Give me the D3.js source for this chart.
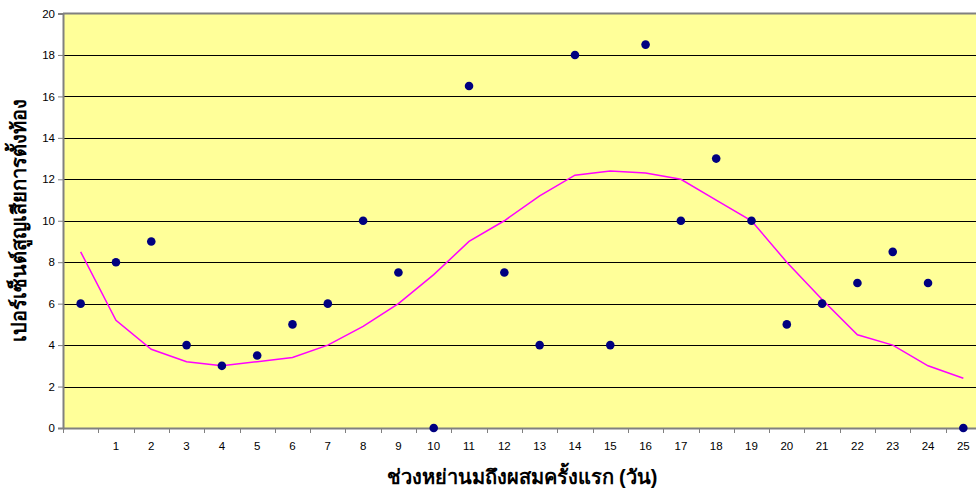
<!DOCTYPE html>
<html><head><meta charset="utf-8">
<script src="https://cdn.jsdelivr.net/npm/d3@7"></script>
<style>
html,body{margin:0;padding:0;background:#fff;overflow:hidden;}
svg{display:block;font-family:"Liberation Sans",Arial,sans-serif;}
</style></head>
<body><svg id="c" width="976" height="488"></svg>
<script>
const categories = ["0","1","2","3","4","5","6","7","8","9","10","11","12","13","14","15","16","17","18","19","20","21","22","23","24","25"];
const tickLabels = ["","1","2","3","4","5","6","7","8","9","10","11","12","13","14","15","16","17","18","19","20","21","22","23","24","25"];
const lossPct = [6,8,9,4,3,3.5,5,6,10,7.5,0,16.5,7.5,4,18,4,18.5,10,13,10,5,6,7,8.5,7,0];
const trend = [8.5,5.2,3.8,3.2,3.0,3.2,3.4,4.0,4.9,6.0,7.4,9.0,10.0,11.2,12.2,12.4,12.3,12.0,11.0,10.0,8.0,6.2,4.5,4.0,3.0,2.4];
const yTicks = [0,2,4,6,8,10,12,14,16,18,20];
const xTitle = "ช่วงหย่านมถึงผสมครั้งแรก (วัน)";
const yTitle = "เปอร์เซ็นต์สูญเสียการตั้งท้อง";

const svg = d3.select("#c");
const L = 63, R = 981, T = 13.5, B = 428;
const x = d3.scaleBand().domain(categories).range([L, R]).padding(0);
const y = d3.scaleLinear().domain([0, 20]).range([B, T]);
const cx = d => x(d) + x.bandwidth() / 2;

svg.append("rect").attr("x", L).attr("y", T).attr("width", R - L).attr("height", B - T).attr("fill", "#ffff99");

// gridlines
svg.append("g").selectAll("line").data(yTicks.filter(v => v > 0 && v < 20)).join("line")
  .attr("x1", L).attr("x2", R).attr("y1", d => Math.round(y(d)) + 0.5).attr("y2", d => Math.round(y(d)) + 0.5)
  .attr("stroke", "#000").attr("stroke-width", 1);
// top border
svg.append("line").attr("x1", L).attr("x2", R).attr("y1", T).attr("y2", T).attr("stroke", "#808080").attr("stroke-width", 2);

// y axis
const yAxis = d3.axisLeft(y).tickValues(yTicks).tickSize(5).tickPadding(3);
const gy = svg.append("g").attr("transform", `translate(${L},0)`).call(yAxis);
gy.select(".domain").attr("stroke", "#808080").attr("stroke-width", 2);
gy.selectAll(".tick line").attr("stroke", "#808080");
gy.selectAll("text").attr("font-size", 11.5).attr("fill", "#000").attr("font-family", "Liberation Sans, Arial, sans-serif");

// x axis
const xAxis = d3.axisBottom(x).tickFormat((d, i) => tickLabels[i]).tickSize(0).tickPadding(14);
const gx = svg.append("g").attr("transform", `translate(0,${B})`).call(xAxis);
gx.select(".domain").attr("stroke", "#808080").attr("stroke-width", 2);
gx.selectAll("text").attr("font-size", 11.5).attr("fill", "#000").attr("font-family", "Liberation Sans, Arial, sans-serif");
// tick marks at band boundaries
const bounds = categories.map(c => x(c)).concat([R]);
gx.append("g").selectAll("line").data(bounds).join("line")
  .attr("x1", d => Math.round(d) + 0.5).attr("x2", d => Math.round(d) + 0.5).attr("y1", 0).attr("y2", 5)
  .attr("stroke", "#808080").attr("stroke-width", 1);

// trend line
const line = d3.line().x((d, i) => cx(categories[i])).y(d => y(d));
svg.append("path").datum(trend).attr("d", line).attr("fill", "none").attr("stroke", "#ff00ff").attr("stroke-width", 1.5);

// dots
svg.append("g").selectAll("circle").data(lossPct).join("circle")
  .attr("cx", (d, i) => cx(categories[i])).attr("cy", d => y(d)).attr("r", 4.3).attr("fill", "#000080");

// titles
svg.append("text").attr("x", 522).attr("y", 484).attr("text-anchor", "middle")
  .attr("font-size", 20).attr("font-weight", "bold").attr("fill", "#000").text(xTitle);
svg.append("text").attr("transform", "translate(26,220) rotate(-90)").attr("text-anchor", "middle")
  .attr("font-size", 20).attr("font-weight", "bold").attr("fill", "#000").text(yTitle);
</script></body></html>
